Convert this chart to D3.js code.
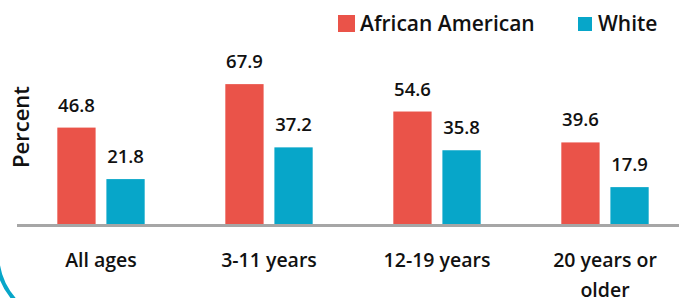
<!DOCTYPE html>
<html>
<head>
<meta charset="utf-8">
<script src="https://cdn.jsdelivr.net/npm/d3@7"></script>
<style>
  html, body { margin: 0; padding: 0; background: #fff; }
  svg { display: block; }
  text { font-family: "Open Sans", "Noto Sans", sans-serif; fill: #111; font-weight: 600; }
</style>
</head>
<body>
<svg id="chart" width="679" height="298"></svg>
<script>
const categories = ["All ages", "3-11 years", "12-19 years", "20 years or older"];
const seriesNames = ["African American", "White"];
const africanAmerican = [46.8, 67.9, 54.6, 39.6];
const white = [21.8, 37.2, 35.8, 17.9];
const seriesColors = ["#ea5349", "#07a6c9"];
const yTitle = "Percent";

const svg = d3.select("#chart");
const W = 679, H = 298;

const x0 = d3.scaleBand().domain(categories).range([17, 689]).paddingInner(0.48).paddingOuter(0.24);
const x1 = d3.scaleBand().domain(seriesNames).range([0, x0.bandwidth()]).paddingInner(0.22);
const y = d3.scaleLinear().domain([0, 80]).range([224, 224 - 2.06 * 80]);

const data = categories.map((c, i) => ({
  cat: c,
  vals: [
    { s: seriesNames[0], v: africanAmerican[i], color: seriesColors[0] },
    { s: seriesNames[1], v: white[i], color: seriesColors[1] }
  ]
}));

// decorative border arc (bottom-left)
svg.append("path")
  .attr("d", "M -3,180 L -3,253 A 71 71 0 0 0 68,324")
  .attr("fill", "none")
  .attr("stroke", "#07a6c9")
  .attr("stroke-width", 4);

const groups = svg.selectAll("g.grp").data(data).join("g")
  .attr("class", "grp")
  .attr("transform", d => `translate(${x0(d.cat)},0)`);

groups.selectAll("rect").data(d => d.vals).join("rect")
  .attr("x", d => x1(d.s))
  .attr("y", d => y(d.v))
  .attr("width", x1.bandwidth())
  .attr("height", d => y(0) - y(d.v))
  .attr("fill", d => d.color);

groups.selectAll("text.val").data(d => d.vals).join("text")
  .attr("class", "val")
  .attr("x", d => x1(d.s) + x1.bandwidth() / 2)
  .attr("y", d => y(d.v) - 16)
  .attr("text-anchor", "middle")
  .attr("font-size", 18.5)
  .text(d => d.v.toFixed(1));

// baseline axis
svg.append("line")
  .attr("x1", 17).attr("x2", W)
  .attr("y1", y(0) + 1.5).attr("y2", y(0) + 1.5)
  .attr("stroke", "#a6a6a6")
  .attr("stroke-width", 3);

// category labels with wrapping
const xAxis = d3.axisBottom(x0).tickSize(0).tickPadding(0);
const gx = svg.append("g").attr("transform", `translate(0,${y(0)})`).call(xAxis);
gx.select(".domain").remove();
gx.selectAll(".tick text")
  .attr("font-size", 19.5)
  .attr("font-family", "'Open Sans', sans-serif")
  .attr("fill", "#111")
  .attr("dy", null)
  .attr("y", 43)
  .each(function(d) {
    const t = d3.select(this);
    const words = d.split(" ");
    t.text(null);
    let line = [];
    let tspan = t.append("tspan").attr("x", 0).attr("dy", 0);
    words.forEach(w => {
      line.push(w);
      tspan.text(line.join(" "));
      if (tspan.node().getComputedTextLength() > 125 && line.length > 1) {
        line.pop();
        tspan.text(line.join(" "));
        line = [w];
        tspan = t.append("tspan").attr("x", 0).attr("dy", 30).text(w);
      }
    });
  });

// y title
svg.append("text")
  .attr("transform", "translate(29,127) rotate(-90)")
  .attr("text-anchor", "middle")
  .attr("font-size", 22)
  .text(yTitle);

// legend
const legendX = [338, 578];
const legendSq = [17, 14];
const legendSqY = [15, 17];
const legendTextX = [360, 598];
const lg = svg.append("g");
seriesNames.forEach((s, i) => {
  lg.append("rect")
    .attr("x", legendX[i]).attr("y", legendSqY[i])
    .attr("width", legendSq[i]).attr("height", legendSq[i])
    .attr("fill", seriesColors[i]);
  lg.append("text")
    .attr("x", legendTextX[i]).attr("y", 31)
    .attr("font-size", 21)
    .text(s);
});
</script>
</body>
</html>
